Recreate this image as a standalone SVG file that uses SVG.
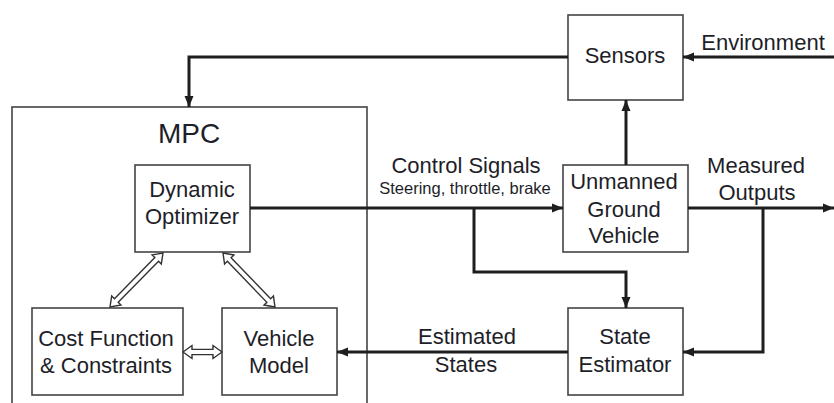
<svg xmlns="http://www.w3.org/2000/svg" width="834" height="403" viewBox="0 0 834 403">
<style>
.box{fill:#fff;stroke:#444;stroke-width:1.6}
.t{font-family:"Liberation Sans",Arial,sans-serif;font-size:22px;fill:#1e1e28;text-anchor:middle}
.s{font-size:16.5px}
.big{font-size:28px}
.c{fill:none;stroke:#1e1e1e;stroke-width:3}
.h{fill:#fff;stroke:#333;stroke-width:1.4;stroke-linejoin:miter}
</style>
<defs>
<marker id="a" markerUnits="userSpaceOnUse" markerWidth="12" markerHeight="10" refX="11" refY="5" orient="auto">
<path d="M0,0.5 L11,5 L0,9.5 z" fill="#1e1e1e"/>
</marker>
</defs>
<rect width="834" height="403" fill="#fff"/>

<g id="mpc">
<rect class="box" x="12" y="107" width="355" height="320"/>
<text class="t big" x="189" y="143">MPC</text>
</g>
<g id="dynamic-optimizer">
<rect class="box" x="135" y="165" width="115" height="87"/>
<text class="t" x="192" y="197">Dynamic</text>
<text class="t" x="192" y="224">Optimizer</text>
</g>
<g id="cost-function">
<rect class="box" x="32" y="308" width="151" height="87"/>
<text class="t" x="106" y="346">Cost Function</text>
<text class="t" x="106" y="373">&amp; Constraints</text>
</g>
<g id="vehicle-model">
<rect class="box" x="222" y="308" width="115" height="87"/>
<text class="t" x="279" y="346">Vehicle</text>
<text class="t" x="279" y="373">Model</text>
</g>
<g id="sensors">
<rect class="box" x="568" y="15" width="115" height="85"/>
<text class="t" x="625" y="63">Sensors</text>
</g>
<g id="ugv">
<rect class="box" x="563" y="165" width="125" height="87"/>
<text class="t" x="624" y="189">Unmanned</text>
<text class="t" x="624" y="217">Ground</text>
<text class="t" x="624" y="243">Vehicle</text>
</g>
<g id="state-estimator">
<rect class="box" x="568" y="308" width="115" height="87"/>
<text class="t" x="625" y="344">State</text>
<text class="t" x="625" y="372">Estimator</text>
</g>

<g id="connectors">
<path class="c" d="M568,57 H189 V107" marker-end="url(#a)"/>
<path class="c" d="M834,57 H683" marker-end="url(#a)"/>
<path class="c" d="M626,165 V100" marker-end="url(#a)"/>
<path class="c" d="M250,208 H563" marker-end="url(#a)"/>
<path class="c" d="M474,208 V272 H626 V308" marker-end="url(#a)"/>
<path class="c" d="M688,208 H834" marker-end="url(#a)"/>
<path class="c" d="M763,208 V352 H683" marker-end="url(#a)"/>
<path class="c" d="M568,352 H337" marker-end="url(#a)"/>
<path class="h" d="M0,0 L9,-6.5 L9,-2.6 L30,-2.6 L30,-6.5 L39,0 L30,6.5 L30,2.6 L9,2.6 L9,6.5 Z" transform="translate(183,352)"/>
<path class="h" d="M0,0 L9,-6.5 L9,-2.6 L66.6,-2.6 L66.6,-6.5 L75.6,0 L66.6,6.5 L66.6,2.6 L9,2.6 L9,6.5 Z" transform="translate(163,253) rotate(134.5)"/>
<path class="h" d="M0,0 L9,-6.5 L9,-2.6 L66,-2.6 L66,-6.5 L75,0 L66,6.5 L66,2.6 L9,2.6 L9,6.5 Z" transform="translate(223,253) rotate(46.1)"/>
<text class="t" x="466" y="173">Control Signals</text>
<text class="t s" x="465" y="194">Steering, throttle, brake</text>
<text class="t" x="763" y="50">Environment</text>
<text class="t" x="756" y="173">Measured</text>
<text class="t" x="757" y="200">Outputs</text>
<text class="t" x="467" y="344">Estimated</text>
<text class="t" x="466" y="372">States</text>
</g>
</svg>
